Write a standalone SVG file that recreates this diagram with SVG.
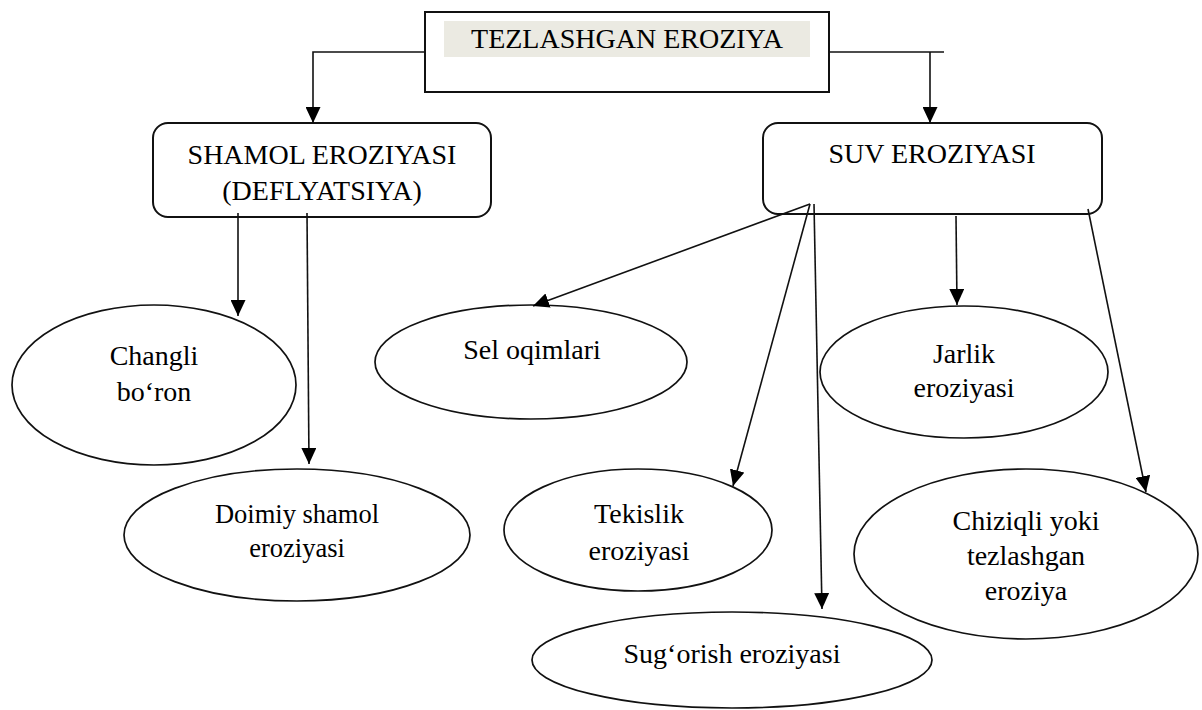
<svg xmlns="http://www.w3.org/2000/svg" width="1202" height="710" viewBox="0 0 1202 710">
<style>
text{font-family:"Liberation Serif","Times New Roman",serif;font-size:28px;fill:#000;text-anchor:middle}
.box{fill:#fff;stroke:#111;stroke-width:2}
.ell{fill:#fff;stroke:#111;stroke-width:1.7}
.con{fill:none;stroke:#111;stroke-width:1.6}
.arr{marker-end:url(#ah)}
</style>
<defs>
<marker id="ah" markerUnits="userSpaceOnUse" markerWidth="16" markerHeight="15" refX="16" refY="7.5" orient="auto">
<path d="M0,0 L16,7.5 L0,15 z" fill="#000"/>
</marker>
</defs>
<rect width="1202" height="710" fill="#fff"/>

<g id="title">
<rect class="box" x="425" y="12" width="404" height="80"/>
<rect x="444" y="21" width="366" height="36" fill="#ebeae2"/>
<text x="627" y="48">TEZLASHGAN EROZIYA</text>
</g>

<g id="shamol">
<rect class="box" x="153" y="123" width="338" height="94" rx="15"/>
<text x="322" y="164">SHAMOL EROZIYASI</text>
<text x="322" y="200">(DEFLYATSIYA)</text>
</g>

<g id="suv">
<rect class="box" x="763" y="123" width="339" height="91" rx="15"/>
<text x="932" y="163">SUV EROZIYASI</text>
</g>

<g id="changli">
<ellipse class="ell" cx="154" cy="385" rx="142" ry="80"/>
<text x="154" y="365">Changli</text>
<text x="154" y="401">bo‘ron</text>
</g>

<g id="doimiy">
<ellipse class="ell" cx="297" cy="535" rx="173" ry="66"/>
<text x="297" y="523" style="font-size:26.5px">Doimiy shamol</text>
<text x="297" y="557" style="font-size:26.5px">eroziyasi</text>
</g>

<g id="sel">
<ellipse class="ell" cx="531" cy="362" rx="156" ry="57"/>
<text x="532" y="359">Sel oqimlari</text>
</g>

<g id="jarlik">
<ellipse class="ell" cx="964" cy="372" rx="144" ry="66"/>
<text x="964" y="363">Jarlik</text>
<text x="964" y="397">eroziyasi</text>
</g>

<g id="tekislik">
<ellipse class="ell" cx="638" cy="530" rx="134" ry="61"/>
<text x="639" y="523">Tekislik</text>
<text x="639" y="560">eroziyasi</text>
</g>

<g id="sugorish">
<ellipse class="ell" cx="732" cy="660" rx="200" ry="48"/>
<text x="732" y="663">Sug‘orish eroziyasi</text>
</g>

<g id="chiziqli">
<ellipse class="ell" cx="1026" cy="554" rx="172" ry="85"/>
<text x="1026" y="530">Chiziqli yoki</text>
<text x="1026" y="565">tezlashgan</text>
<text x="1026" y="600">eroziya</text>
</g>

<g id="connectors">
<path class="con arr" d="M425,52 H313 V123"/>
<path class="con" d="M829,52 H944"/>
<path class="con arr" d="M930,52 V123"/>
<path class="con arr" d="M238,213 V316"/>
<path class="con arr" d="M307,213 L309,464"/>
<path class="con arr" d="M810,204 L533,306"/>
<path class="con arr" d="M810,204 L733,486"/>
<path class="con arr" d="M814,204 L822,609"/>
<path class="con arr" d="M956,216 L957,305"/>
<path class="con arr" d="M1088,209 L1146,492"/>
</g>
</svg>
